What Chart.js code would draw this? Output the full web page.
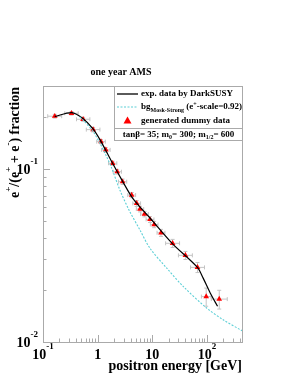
<!DOCTYPE html>
<html><head><meta charset="utf-8">
<script src="https://cdn.jsdelivr.net/npm/chart.js@4/dist/chart.umd.min.js"></script>
<style>html,body{margin:0;padding:0;background:#fff}#wrap{width:291px;height:376px}</style>
</head><body><div id="wrap"><canvas id="c" width="291" height="376"></canvas></div>
<script>
// generated dummy data (red triangles)
const energy      = [0.164,0.332,0.542,0.826,1.15,1.41,1.88,2.28,2.86,4.19,5.17,5.95,7.19,9.07,10.8,14.4,23.5,40.3,67.0,96.7,167.5];
const fraction    = [0.202,0.210,0.194,0.169,0.144,0.129,0.108,0.0965,0.0845,0.0707,0.0633,0.0587,0.0549,0.0511,0.0478,0.0428,0.0372,0.0317,0.0270,0.0183,0.0177];
const energyLow   = [0.122,0.25,0.41,0.62,0.96,1.18,1.58,1.92,2.40,3.55,4.40,5.10,6.10,7.70,9.20,12.2,17.5,30.0,50.0,79.0,120.0];
const energyHigh  = [0.220,0.44,0.72,1.10,1.38,1.69,2.24,2.72,3.40,4.95,6.10,6.95,8.45,10.7,12.7,17.0,31.5,54.0,90.0,119.0,235.0];
const fractionErr = [0.005,0.005,0.005,0.005,0.004,0.004,0.003,0.003,0.003,0.0025,0.0025,0.0022,0.002,0.002,0.002,0.002,0.002,0.0017,0.0018,0.0022,0.0022];
// exp. data by DarkSUSY (black curve)
const curveEnergy   = [0.164,0.336,0.536,0.816,1.14,1.82,2.78,4.46,9.07,23.0,66.3,85.1,114.5,156];
const curveFraction = [0.201,0.212,0.196,0.171,0.145,0.1097,0.0863,0.0672,0.0521,0.0372,0.0271,0.0234,0.0192,0.0161];
// bg Mosk-Strong (cyan dotted)
const bgEnergy   = [0.471,0.582,0.826,1.10,1.46,1.80,2.55,3.74,5.94,9.07,18.4,37.1,99.6,201,437];
const bgFraction = [0.200,0.1875,0.1645,0.141,0.1178,0.1014,0.0756,0.0580,0.0444,0.0348,0.0267,0.0209,0.01567,0.0134,0.01162];
// axis ticks
const xTickValues = [0.1,1,10,100];
const xTickLabels = [['10','-1'],['1',''],['10',''],['10','2']];
const yTickValues = [0.01,0.1];
const yTickLabels = [['10','-2'],['10','-1']];

const FONT = '"Liberation Serif","Times New Roman",serif';
const FRAME = '#aaaaaa';

function rich(ctx, segs, x, y, align){
  let w = 0;
  segs.forEach(s=>{ctx.font='bold '+s.f+'px '+FONT; s.w=ctx.measureText(s.t).width; w+=s.w;});
  let sx = align==='right' ? x-w : align==='center' ? x-w/2 : x;
  ctx.textBaseline='middle'; ctx.textAlign='left';
  segs.forEach(s=>{ctx.font='bold '+s.f+'px '+FONT; ctx.fillText(s.t, sx, y+(s.dy||0)); sx+=s.w;});
  return w;
}

const deco = {
  id:'deco',
  beforeDatasetsDraw(chart){
    const ctx=chart.ctx, xs=chart.scales.x, ys=chart.scales.y;
    ctx.save();
    ctx.strokeStyle='#c4c4c4'; ctx.lineWidth=1;
    for(let i=0;i<energy.length;i++){
      const px=xs.getPixelForValue(energy[i]), py=ys.getPixelForValue(fraction[i]);
      const x1=xs.getPixelForValue(energyLow[i]), x2=xs.getPixelForValue(energyHigh[i]);
      const y1=ys.getPixelForValue(fraction[i]-fractionErr[i]), y2=ys.getPixelForValue(fraction[i]+fractionErr[i]);
      ctx.beginPath();
      ctx.moveTo(x1,py);ctx.lineTo(x2,py);
      ctx.moveTo(x1,py-2);ctx.lineTo(x1,py+2);
      ctx.moveTo(x2,py-2);ctx.lineTo(x2,py+2);
      ctx.moveTo(px,y1);ctx.lineTo(px,y2);
      ctx.moveTo(px-2,y1);ctx.lineTo(px+2,y1);
      ctx.moveTo(px-2,y2);ctx.lineTo(px+2,y2);
      ctx.stroke();
    }
    ctx.restore();
  },
  afterDraw(chart){
    const ctx=chart.ctx, a=chart.chartArea, xs=chart.scales.x, ys=chart.scales.y;
    ctx.save();
    // frame
    ctx.strokeStyle=FRAME; ctx.lineWidth=1;
    ctx.strokeRect(Math.round(a.left)+0.5, Math.round(a.top)+0.5, Math.round(a.right-a.left), Math.round(a.bottom-a.top));
    // x ticks
    ctx.beginPath();
    for(let d=-1; d<=2; d++){
      for(let m=1;m<=9;m++){
        const v=m*Math.pow(10,d); if(v>xs.max) break;
        const px=Math.round(xs.getPixelForValue(v))+0.5;
        const len = m===1?7:3.5;
        ctx.moveTo(px,a.bottom); ctx.lineTo(px,a.bottom-len);
      }
    }
    for(let d=-2; d<=-1; d++){
      for(let m=1;m<=9;m++){
        const v=m*Math.pow(10,d); if(v>ys.max) break;
        const py=Math.round(ys.getPixelForValue(v))+0.5;
        const len = m===1?7:3.5;
        ctx.moveTo(a.left,py); ctx.lineTo(a.left+len,py);
      }
    }
    ctx.stroke();
    // tick labels
    ctx.fillStyle='#000';
    xTickValues.forEach((v,i)=>{
      const px=xs.getPixelForValue(v);
      rich(ctx,[{t:xTickLabels[i][0],f:14},{t:xTickLabels[i][1],f:9,dy:-8}],px,a.bottom+13,'center');
    });
    yTickValues.forEach((v,i)=>{
      const py=ys.getPixelForValue(v);
      rich(ctx,[{t:yTickLabels[i][0],f:14},{t:yTickLabels[i][1],f:9,dy:-8}],a.left-5,py+1,'right');
    });
    // axis titles
    rich(ctx,[{t:'positron energy [GeV]',f:14}],a.right,366,'right');
    ctx.save();
    ctx.translate(15,a.top+1); ctx.rotate(-Math.PI/2);
    rich(ctx,[{t:'e',f:14},{t:'+',f:9,dy:-6},{t:'/(e',f:14},{t:'+',f:9,dy:-6},{t:' + e',f:14},{t:'-',f:9,dy:-6},{t:') fraction',f:14}],0,0,'right');
    ctx.restore();
    // title
    rich(ctx,[{t:'one year AMS',f:10}],121,72,'center');
    // legend box
    const L=114.5, R=Math.round(a.right)+0.5, T=Math.round(a.top)+0.5, B=140.5;
    ctx.fillStyle='#fff'; ctx.fillRect(L,T,R-L,B-T);
    ctx.strokeStyle=FRAME; ctx.strokeRect(L,T,R-L,B-T);
    ctx.beginPath(); ctx.moveTo(L,128.5); ctx.lineTo(R,128.5); ctx.stroke();
    ctx.fillStyle='#000';
    ctx.strokeStyle='#000'; ctx.lineWidth=1.3;
    ctx.beginPath(); ctx.moveTo(117,94); ctx.lineTo(138,94); ctx.stroke();
    ctx.strokeStyle='#5ccfd6'; ctx.lineWidth=1.1; ctx.setLineDash([2,1.5]);
    ctx.beginPath(); ctx.moveTo(117,107); ctx.lineTo(138,107); ctx.stroke();
    ctx.setLineDash([]);
    ctx.fillStyle='#ff0000';
    ctx.beginPath(); ctx.moveTo(127.5,116.5); ctx.lineTo(131.5,123.5); ctx.lineTo(123.5,123.5); ctx.closePath(); ctx.fill();
    ctx.fillStyle='#000';
    rich(ctx,[{t:'exp. data by DarkSUSY',f:9}],141,94,'left');
    rich(ctx,[{t:'bg',f:9},{t:'Mosk-Strong',f:6,dy:3},{t:' (e',f:9},{t:'+',f:6,dy:-3},{t:'-scale=0.92)',f:9}],141,107,'left');
    rich(ctx,[{t:'generated dummy data',f:9}],141,121,'left');
    rich(ctx,[{t:'tan\u03b2= 35; m',f:9},{t:'0',f:6,dy:3},{t:'= 300; m',f:9},{t:'1/2',f:6,dy:3},{t:'= 600',f:9}],(L+R)/2,134.5,'center');
    ctx.restore();
  }
};

const pts=(xa,ya)=>xa.map((x,i)=>({x:x,y:ya[i]}));

new Chart(document.getElementById('c'),{
  type:'scatter',
  data:{datasets:[
    {label:'bg', data:pts(bgEnergy,bgFraction), showLine:true, pointRadius:0, borderColor:'#5ccfd6', borderWidth:1.1, borderDash:[2,1.5], tension:0.3, fill:false},
    {label:'exp', data:pts(curveEnergy,curveFraction), showLine:true, pointRadius:0, borderColor:'#000', borderWidth:1.2, tension:0.3, fill:false},
    {label:'dummy', data:pts(energy,fraction), showLine:false, pointStyle:'triangle', pointRadius:3.3, backgroundColor:'#ff0000', borderColor:'#ff0000', borderWidth:0}
  ]},
  options:{
    responsive:false, animation:false, devicePixelRatio:1,
    layout:{padding:{left:43,right:49,top:86,bottom:34}},
    plugins:{legend:{display:false},tooltip:{enabled:false},title:{display:false}},
    scales:{
      x:{type:'logarithmic',min:0.1,max:437,ticks:{display:false},grid:{display:false,drawTicks:false},border:{display:false},afterFit:s=>{s.height=0;}},
      y:{type:'logarithmic',min:0.01,max:0.302,ticks:{display:false},grid:{display:false,drawTicks:false},border:{display:false},afterFit:s=>{s.width=0;}}
    }
  },
  plugins:[deco]
});
</script>
</body></html>
